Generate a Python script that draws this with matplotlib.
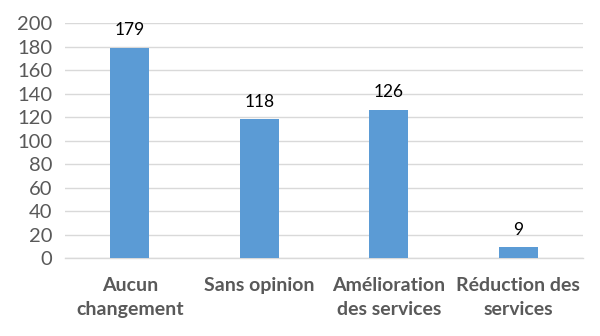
import matplotlib
matplotlib.use("Agg")
import matplotlib.pyplot as plt

categories = ["Aucun\nchangement", "Sans opinion", "Amélioration\ndes services", "Réduction des\nservices"]
values = [179, 118, 126, 9]
yticks = [0, 20, 40, 60, 80, 100, 120, 140, 160, 180, 200]

plt.rcParams['font.family'] = ['Lato', 'DejaVu Sans']

fig = plt.figure(figsize=(6, 3.36), dpi=100)
ax = fig.add_axes([65/600, 1-258/336, 518/600, 235/336])

x = list(range(len(categories)))
bars = ax.bar(x, values, width=0.3, color="#5B9BD5", zorder=3)

for xi, v in zip(x, values):
    ax.annotate(str(v), (xi, v), xytext=(0, 7), textcoords="offset points",
                ha="center", va="bottom", fontsize=12.5, color="black")

ax.set_xlim(-0.5, len(categories) - 0.5)
ax.set_ylim(0, 200)
ax.set_yticks(yticks)
ax.yaxis.grid(True, color="#D9D9D9", linewidth=1, zorder=0)
ax.set_axisbelow(True)

for s in ["top", "right", "left"]:
    ax.spines[s].set_visible(False)
ax.spines["bottom"].set_color("#D9D9D9")
ax.spines["bottom"].set_linewidth(1)

ax.tick_params(axis="both", length=0)
ax.tick_params(axis="y", labelsize=14.5, labelcolor="#595959", pad=9)
ax.set_xticks(x)
ax.set_xticklabels(categories, fontsize=14, fontweight="bold", color="#595959",
                   linespacing=1.45)
ax.tick_params(axis="x", pad=14)

fig.savefig("out.png", dpi=100)
